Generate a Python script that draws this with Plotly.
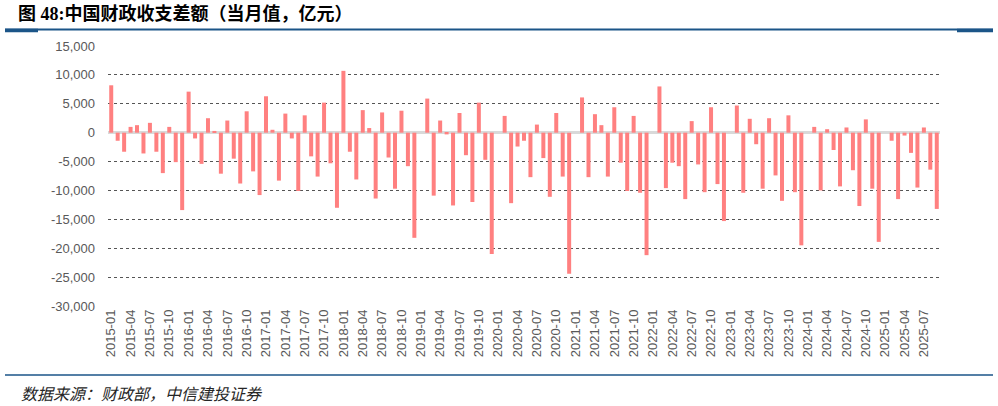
import plotly.graph_objects as go

years = list(range(2015, 2026))
v2015 = [8200, -1400, -3300, 1000, 1300, -3600, 1700, -3300, -7000, 1000, -5100, -13400]
v2016 = [7100, -1000, -5400, 2500, 300, -7100, 2100, -4500, -8800, 3700, -6700, -10800]
v2017 = [6300, 500, -8300, 3300, -1000, -10100, 3000, -4100, -7600, 5200, -5300, -13000]
v2018 = [10700, -3300, -8100, 3900, 800, -11400, 3500, -4300, -9700, 3800, -5800, -18200]
v2019 = [None, 5900, -10900, 2100, -300, -12600, 3400, -3900, -12000, 5200, -4700, -21000]
v2020 = [None, 2900, -12200, -2400, -1400, -7700, 1400, -4400, -11100, 3400, -7600, -24400]
v2021 = [None, 6100, -7700, 3200, 1300, -7600, 4400, -5200, -10100, 2900, -10400, -21200]
v2022 = [None, 8000, -9600, -5200, -5800, -11500, 2000, -5500, -10300, 4400, -8900, -15300]
v2023 = [None, 4700, -10400, 2400, -2000, -9700, 2500, -7400, -11800, 3000, -10300, -19500]
v2024 = [None, 1000, -10000, 600, -3000, -9300, 900, -6500, -12700, 2300, -9700, -18900]
v2025 = [None, -1400, -11500, -500, -3500, -9500, 900, -6400, -13200]

yearly = [v2015, v2016, v2017, v2018, v2019, v2020, v2021, v2022, v2023, v2024, v2025]
months = []
values = []
for y, vals in zip(years, yearly):
    for m, v in enumerate(vals, start=1):
        months.append(f"{y}-{m:02d}")
        values.append(v)

x_ticks = months[::3]
y_ticks = [15000, 10000, 5000, 0, -5000, -10000, -15000, -20000, -25000, -30000]
y_ticktext = ["15,000", "10,000", "5,000", "0", "-5,000", "-10,000", "-15,000", "-20,000", "-25,000", "-30,000"]

title_text = "图 48:中国财政收支差额（当月值，亿元）"
source_text = "数据来源：财政部，中信建投证券"

fig = go.Figure()
fig.add_trace(go.Bar(x=months, y=values, marker=dict(color="#FF8080", line=dict(width=0)), showlegend=False))

W, H = 998, 406
L, R, T, B = 108, 58, 46, 100
pw, ph = W - L - R, H - T - B

def px(xp):
    return (xp - L) / pw

def py(yp):
    return (H - B - yp) / ph

blue = "#1B5588"
shapes = [
    dict(type="line", xref="paper", yref="paper", x0=px(5), x1=px(993), y0=py(29.5), y1=py(29.5), line=dict(color=blue, width=2)),
    dict(type="line", xref="paper", yref="paper", x0=px(5), x1=px(38), y0=py(30.5), y1=py(30.5), line=dict(color=blue, width=3.5)),
    dict(type="line", xref="paper", yref="paper", x0=px(957), x1=px(993), y0=py(30.5), y1=py(30.5), line=dict(color=blue, width=3.5)),
    dict(type="line", xref="paper", yref="paper", x0=px(5), x1=px(993), y0=py(375), y1=py(375), line=dict(color=blue, width=1.5)),
]

fig.update_layout(
    width=W, height=H,
    margin=dict(l=L, r=R, t=T, b=B, autoexpand=False),
    plot_bgcolor="white", paper_bgcolor="white",
    bargap=0.38,
    shapes=shapes,
    annotations=[
        dict(text=f"<b>{title_text}</b>", xref="paper", yref="paper", x=px(16), y=py(13),
             xanchor="left", yanchor="middle", showarrow=False,
             font=dict(family="Liberation Serif, Noto Sans CJK SC", size=18, color="#000000")),
        dict(text=f"<i>{source_text}</i>", xref="paper", yref="paper", x=px(19), y=py(393),
             xanchor="left", yanchor="middle", showarrow=False,
             font=dict(family="Noto Sans CJK SC", size=16, color="#262626")),
    ],
    xaxis=dict(
        type="category", categoryorder="array", categoryarray=months,
        range=[-0.5, len(months) - 0.5], automargin=False,
        tickmode="array", tickvals=x_ticks, ticktext=x_ticks,
        tickangle=-90, showgrid=False, showline=False, ticks="",
        tickfont=dict(family="Liberation Sans", size=13, color="#595959"),
    ),
    yaxis=dict(
        range=[-30000, 15000], tickmode="array", tickvals=y_ticks, ticktext=y_ticktext,
        automargin=False,
        showgrid=True, gridcolor="#555555", griddash="dot", gridwidth=1,
        zeroline=True, zerolinecolor="#D9D9D9", zerolinewidth=2.5,
        showline=False, ticks="", ticklabelstandoff=12,
        tickfont=dict(family="Liberation Sans", size=13, color="#595959"),
    ),
)

fig.write_html("out.html", config={"displayModeBar": False},
               post_script="document.body.style.margin='0';")
